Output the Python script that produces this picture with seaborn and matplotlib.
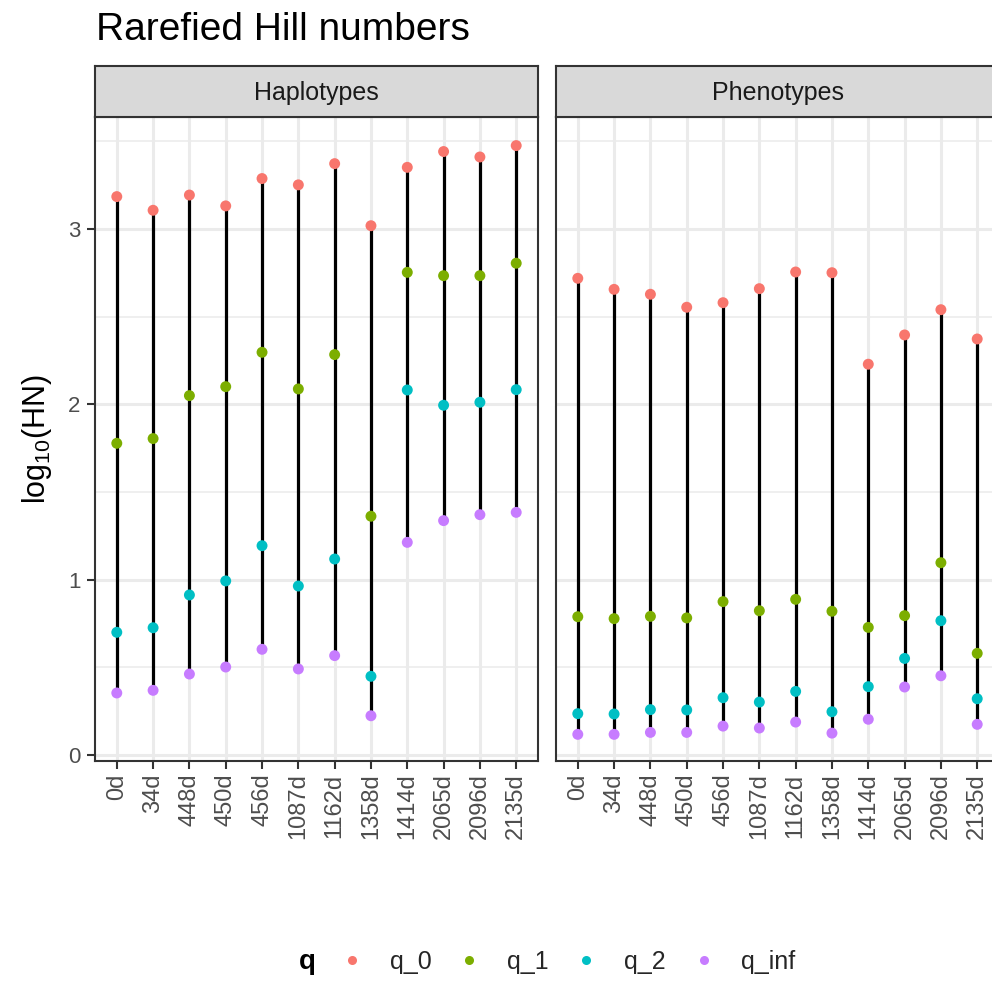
import numpy as np
import pandas as pd
import matplotlib
matplotlib.use("Agg")
import matplotlib.pyplot as plt
import seaborn as sns
from matplotlib.lines import Line2D

# Sampling days (shared by both facets)
days = ["0d", "34d", "448d", "450d", "456d", "1087d", "1162d",
        "1358d", "1414d", "2065d", "2096d", "2135d"]

# log10 rarefied Hill numbers, haplotypes
hap_q0 = [3.185, 3.107, 3.194, 3.132, 3.288, 3.252, 3.373, 3.019, 3.352, 3.442, 3.411, 3.476]
hap_q1 = [1.778, 1.805, 2.050, 2.101, 2.297, 2.088, 2.284, 1.362, 2.753, 2.734, 2.734, 2.805]
hap_q2 = [0.700, 0.726, 0.913, 0.993, 1.194, 0.964, 1.118, 0.449, 2.082, 1.995, 2.012, 2.084]
hap_qinf = [0.354, 0.369, 0.462, 0.502, 0.603, 0.491, 0.567, 0.224, 1.213, 1.337, 1.371, 1.384]

# log10 rarefied Hill numbers, phenotypes
phe_q0 = [2.719, 2.656, 2.628, 2.554, 2.580, 2.660, 2.755, 2.751, 2.229, 2.396, 2.540, 2.373]
phe_q1 = [0.789, 0.778, 0.791, 0.782, 0.875, 0.823, 0.888, 0.820, 0.728, 0.795, 1.097, 0.580]
phe_q2 = [0.236, 0.234, 0.259, 0.257, 0.327, 0.302, 0.363, 0.247, 0.390, 0.551, 0.766, 0.321]
phe_qinf = [0.118, 0.118, 0.129, 0.129, 0.165, 0.154, 0.188, 0.125, 0.204, 0.388, 0.452, 0.175]

q_levels = ["q_0", "q_1", "q_2", "q_inf"]
q_colors = ["#F8766D", "#7CAE00", "#00BFC4", "#C77CFF"]
panels = ["Haplotypes", "Phenotypes"]

series = {
    "Haplotypes": [hap_q0, hap_q1, hap_q2, hap_qinf],
    "Phenotypes": [phe_q0, phe_q1, phe_q2, phe_qinf],
}

rows = []
for panel in panels:
    for q, vals in zip(q_levels, series[panel]):
        for i, (d, v) in enumerate(zip(days, vals)):
            rows.append({"panel": panel, "day": d, "pos": i, "q": q, "value": v})
df = pd.DataFrame(rows)

sns.set_theme(style="white")
plt.rcParams["font.family"] = ["Liberation Sans", "DejaVu Sans"]
plt.rcParams["mathtext.fontset"] = "custom"
plt.rcParams["mathtext.rm"] = "Liberation Sans"
plt.rcParams["mathtext.it"] = "Liberation Sans:italic"

W, H = 992, 984
fig = plt.figure(figsize=(W / 100, H / 100), dpi=100, facecolor="white")


def frac_box(x0, y0, x1, y1):
    return [x0 / W, 1 - y1 / H, (x1 - x0) / W, (y1 - y0) / H]


border = "#333333"
grid_c = "#EBEBEB"
text_c = "#4D4D4D"
palette = dict(zip(q_levels, q_colors))

panel_left = [95, 556]
panel_w = 443
top, bottom, strip_top = 117, 761, 66

for k, panel in enumerate(panels):
    x0 = panel_left[k]
    ax = fig.add_axes(frac_box(x0, top, x0 + panel_w, bottom))
    sub = df[df["panel"] == panel]

    # grid
    for yv in [0.5, 1.5, 2.5, 3.5]:
        ax.axhline(yv, color=grid_c, lw=1.1, zorder=0)
    for yv in [0, 1, 2, 3]:
        ax.axhline(yv, color=grid_c, lw=2.2, zorder=0)
    for xv in range(len(days)):
        ax.axvline(xv, color=grid_c, lw=2.2, zorder=0)

    # range segments from lowest to highest order
    wide = sub.pivot(index="pos", columns="q", values="value")
    ax.vlines(wide.index, wide.min(axis=1), wide.max(axis=1),
              color="black", lw=2.3, zorder=2)

    sns.scatterplot(data=sub, x="pos", y="value", hue="q", hue_order=q_levels,
                    palette=palette, s=62, linewidth=0, ax=ax, legend=False,
                    zorder=3)

    ax.set_xlim(-0.6, len(days) - 0.4)
    ax.set_ylim(-0.034, 3.639)
    ax.set_xlabel("")
    ax.set_ylabel("")
    ax.set_facecolor("white")
    for sp in ax.spines.values():
        sp.set_color(border)
        sp.set_linewidth(1.5)
        sp.set_visible(True)
        sp.set_zorder(5)

    ax.set_xticks(range(len(days)))
    ax.set_xticklabels(days, rotation=90, ha="center", va="top",
                       fontsize=17, color=text_c)
    ax.tick_params(axis="x", bottom=True, length=5.5, width=1.5,
                   color=border, pad=3.5)
    if k == 0:
        ax.set_yticks([0, 1, 2, 3])
        ax.set_yticklabels(["0", "1", "2", "3"], fontsize=16, color=text_c)
        ax.tick_params(axis="y", left=True, length=5.5, width=1.5,
                       color=border, pad=5)
    else:
        ax.set_yticks([])

    # facet strip
    sax = fig.add_axes(frac_box(x0, strip_top, x0 + panel_w, top))
    sax.set_facecolor("#D9D9D9")
    sax.set_xticks([])
    sax.set_yticks([])
    for sp in sax.spines.values():
        sp.set_color(border)
        sp.set_linewidth(1.5)
        sp.set_visible(True)
    sax.text(0.5, 0.47, panel, ha="center", va="center", fontsize=18,
             color="#1A1A1A", transform=sax.transAxes)

fig.text(96 / W, 1 - 40 / H, "Rarefied Hill numbers", fontsize=28,
         color="black", ha="left", va="baseline")
fig.text(37 / W, 1 - 439 / H, r"log$_{10}$(HN)", fontsize=22, rotation=90,
         ha="center", va="center", color="black")

# legend
handles = [Line2D([], [], marker="o", ls="", color=c, markersize=6.5,
                  markeredgewidth=0) for c in q_colors]
fig.legend(handles, q_levels, ncol=4, loc="center left",
           bbox_to_anchor=(339.5 / W, 1 - 962 / H), frameon=False,
           fontsize=18, handlelength=1.0, handletextpad=1.02,
           columnspacing=1.0, borderpad=0, borderaxespad=0)
fig.text(299 / W, 1 - 969 / H, "q", fontsize=20, fontweight="bold",
         ha="left", va="baseline", color="black")

fig.savefig("out.png", dpi=100, facecolor="white")
